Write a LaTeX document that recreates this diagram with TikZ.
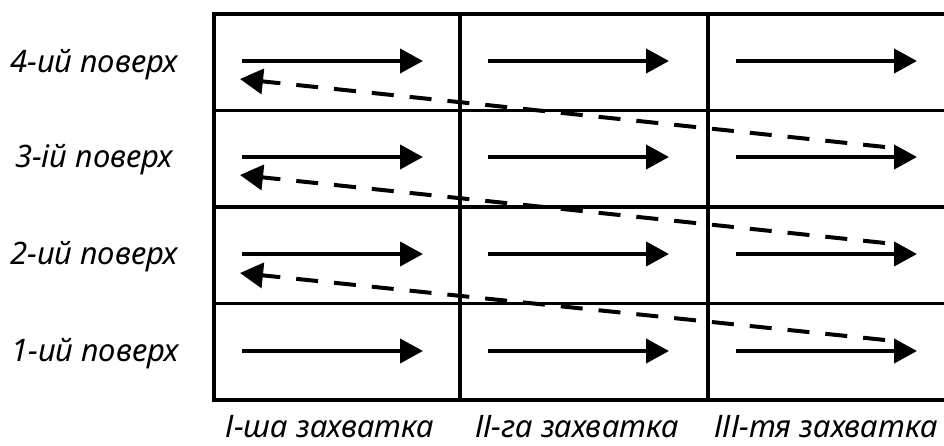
\documentclass[tikz,border=0pt]{standalone}
\usepackage{fontspec}
\setmainfont{Noto Sans}
\usetikzlibrary{arrows.meta}
\begin{document}
\begin{tikzpicture}[x=1pt,y=-1pt,
  gridline/.style={line width=3.5pt,line cap=rect},
  flow/.style={line width=4pt,-{Triangle[length=23pt,width=24pt]}},
  back/.style={line width=4pt,dash pattern=on 22pt off 16pt,-{Triangle[length=23pt,width=25pt]}},
  lbl/.style={font=\fontsize{31}{31}\selectfont\itshape,inner sep=0pt,anchor=base}]
\useasboundingbox (0,0) rectangle (944,446);
% grid of floors and work sections
\draw[gridline] (214,14) -- (960,14);
\foreach \y in {110.5,207,303.5}{\draw[gridline] (214,\y) -- (960,\y);}
\draw[gridline] (214,400) -- (960,400);
\foreach \x in {214,460,708}{\draw[gridline] (\x,14) -- (\x,400);}
% solid arrows: work within each floor and section
\foreach \r/\y in {4/61,3/157,2/254,1/351}{
  \foreach \c/\x in {1/214,2/460,3/708}{
    \coordinate (s\r\c) at (\x+28,\y);
    \coordinate (e\r\c) at (\x+209,\y);
    \draw[flow] (s\r\c) -- (e\r\c);
  }
}
% dashed arrows: return to the first section of the next floor
\coordinate (b3) at (885,147); \coordinate (t4) at (240,79);
\coordinate (b2) at (885,243); \coordinate (t3) at (240,175);
\coordinate (b1) at (885,340); \coordinate (t2) at (240,273);
\draw[back] (b3) -- (t4);
\draw[back] (b2) -- (t3);
\draw[back] (b1) -- (t2);
% floor labels
\node[lbl] (f4) at (94,73) {4-ий поверх};
\node[lbl] (f3) at (94,168) {3-ій поверх};
\node[lbl] (f2) at (94,265) {2-ий поверх};
\node[lbl] (f1) at (95,361) {1-ий поверх};
% section labels
\node[lbl] (z1) at (330,437) {І-ша захватка};
\node[lbl] (z2) at (577,437) {ІІ-га захватка};
\node[lbl] (z3) at (826,437) {ІІІ-тя захватка};
\end{tikzpicture}
\end{document}
